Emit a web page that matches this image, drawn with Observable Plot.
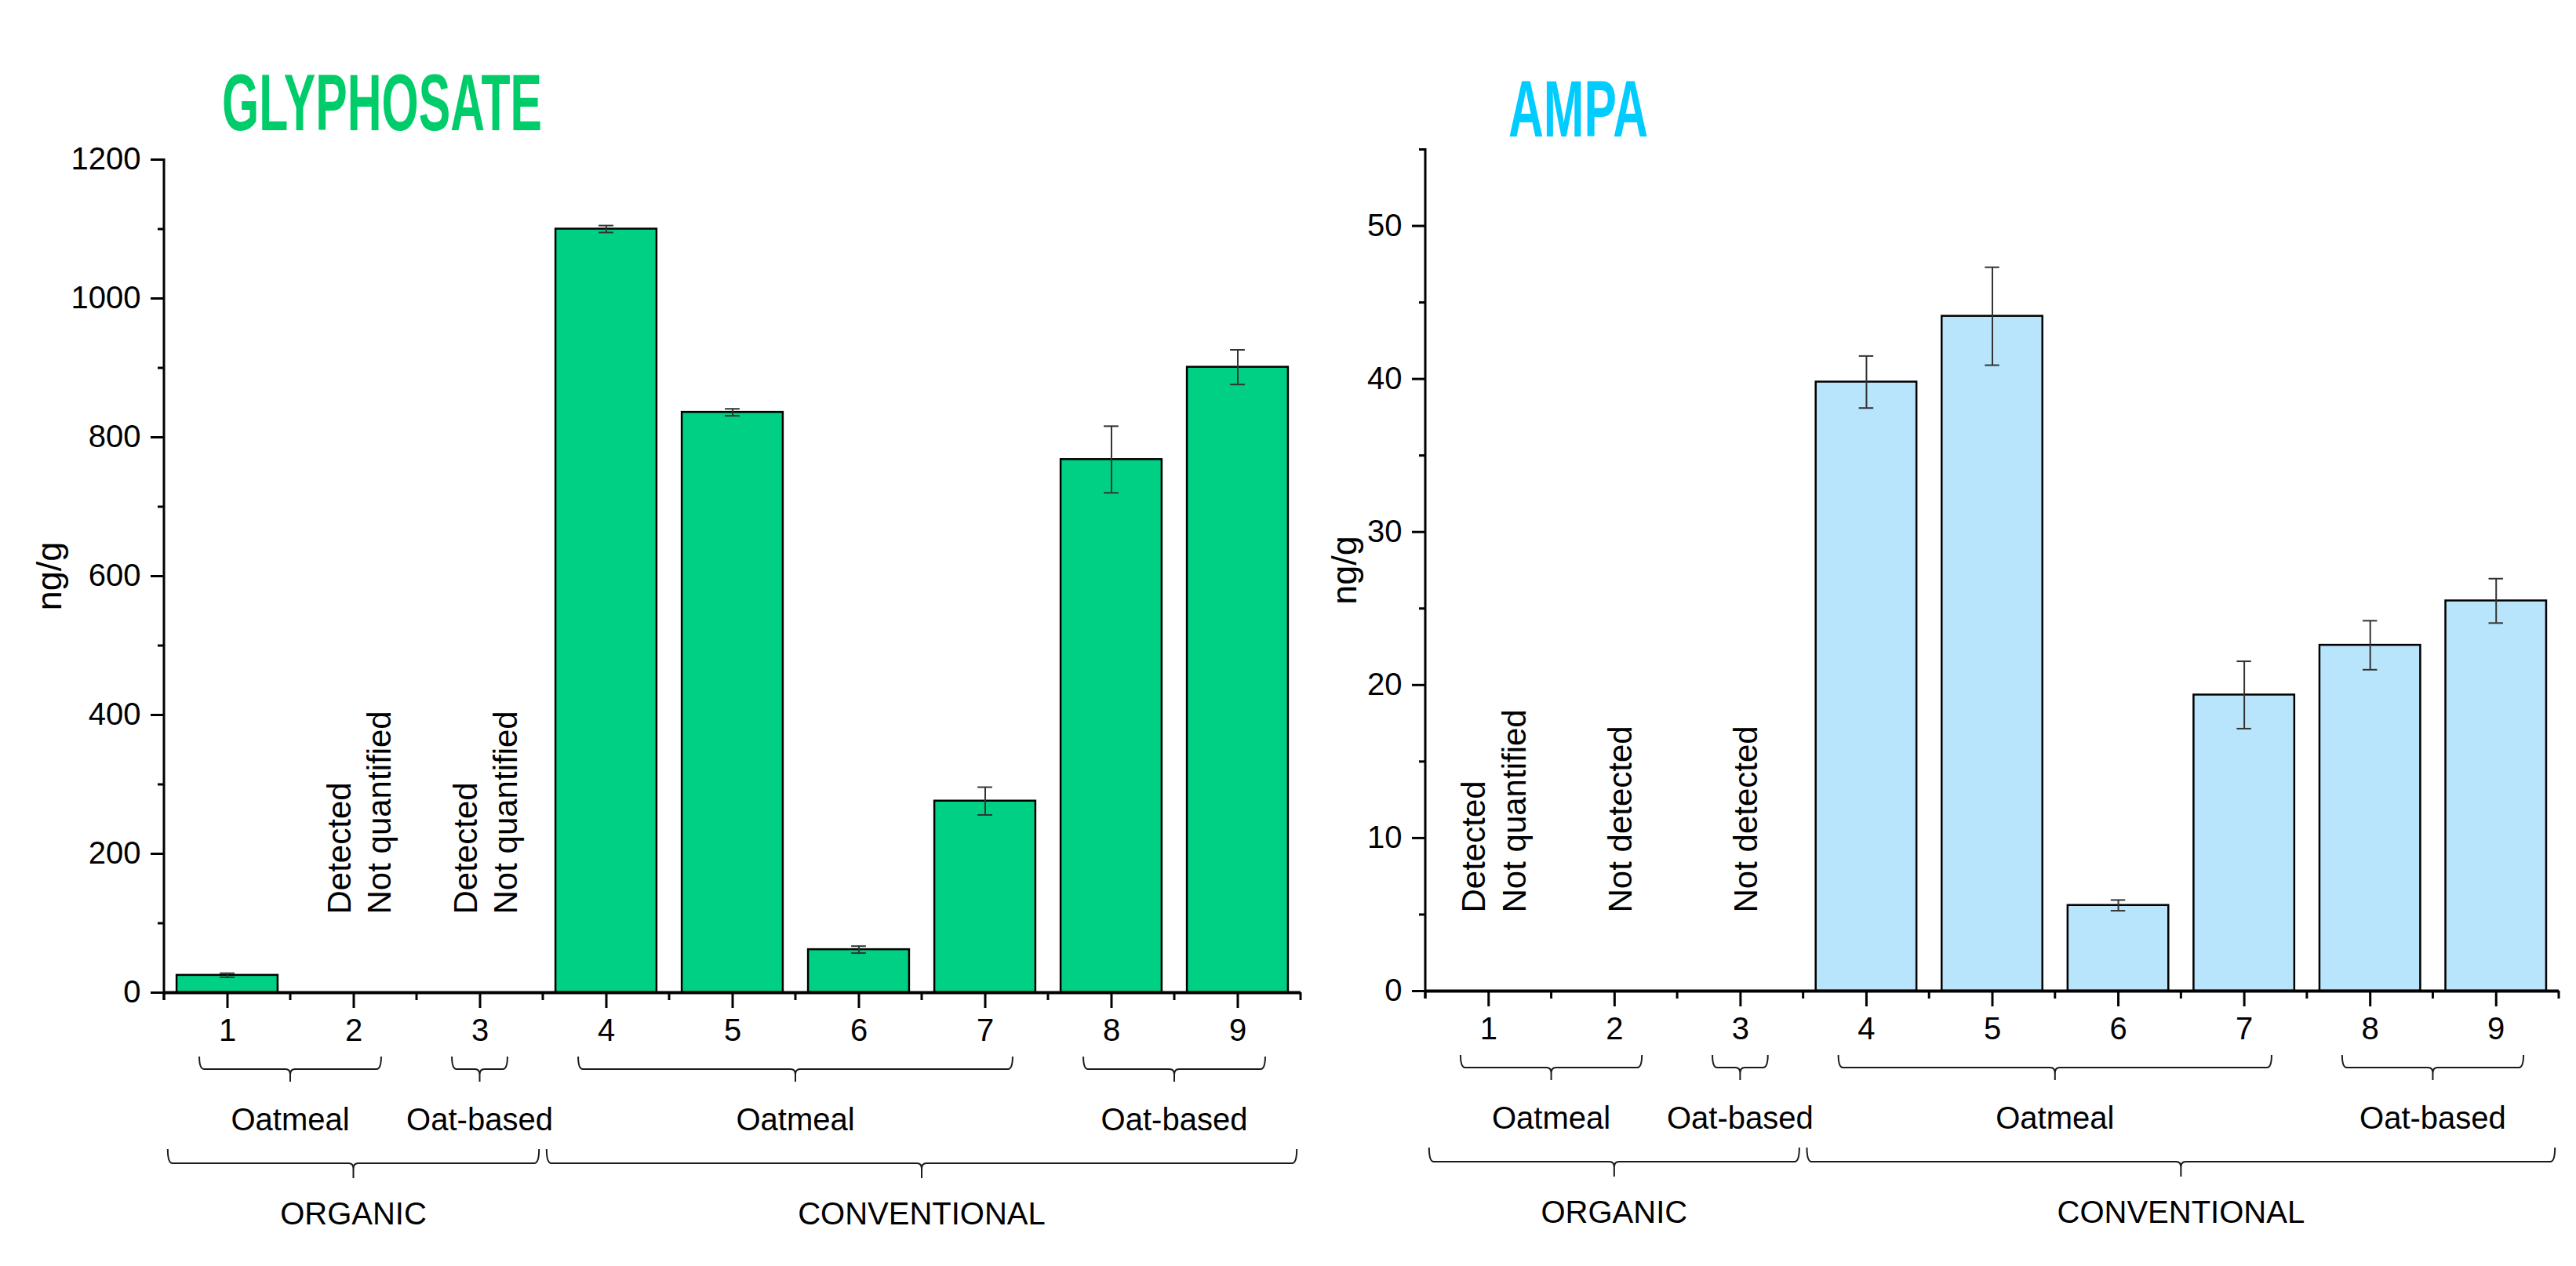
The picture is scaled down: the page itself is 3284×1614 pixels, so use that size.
<!DOCTYPE html>
<html><head><meta charset="utf-8">
<script src="https://cdn.jsdelivr.net/npm/d3@7"></script>
<script src="https://cdn.jsdelivr.net/npm/@observablehq/plot@0.6"></script>
<style>
html,body{margin:0;padding:0;background:#fff;}
#page{position:relative;width:3284px;height:1614px;overflow:hidden;background:#fff;}
.title{position:absolute;font-family:"Liberation Sans Narrow","Liberation Sans",Arial,sans-serif;font-weight:bold;font-size:102px;line-height:102px;white-space:nowrap;transform-origin:0 0;}
.chart{position:absolute;top:0;}
</style></head><body><div id="page"></div>
<script>
const categories = ["1","2","3","4","5","6","7","8","9"];
const glyphosateValues = [25, null, null, 1100, 836, 62, 276, 768, 901];
const glyphosateErrors = [3, null, null, 5, 5, 5, 20, 48, 25];
const ampaValues = [null, null, null, 39.8, 44.1, 5.6, 19.35, 22.6, 25.5];
const ampaErrors = [null, null, null, 1.7, 3.2, 0.35, 2.2, 1.6, 1.45];
const glyphosateNoteCategories = ["2","3"];
const glyphosateNoteTexts = ["Detected\nNot quantified", "Detected\nNot quantified"];
const ampaNoteCategories = ["1","2","3"];
const ampaNoteTexts = ["Detected\nNot quantified", "Not detected", "Not detected"];
const typeLabels = ["Oatmeal","Oat-based","Oatmeal","Oat-based"];
const typeFrom = ["1","3","4","8"];
const typeTo = ["2","3","7","9"];
const farmingLabels = ["ORGANIC","CONVENTIONAL"];
const farmingFrom = ["1","4"];
const farmingTo = ["3","9"];
const glyphosateTicks = [0,200,400,600,800,1000,1200];
const glyphosateMinorTicks = [100,300,500,700,900,1100];
const ampaTicks = [0,10,20,30,40,50];
const ampaMinorTicks = [5,15,25,35,45,55];
const yLabel = "ng/g";

const FONT = "'Liberation Sans', Arial, sans-serif";

function decorations() {
  return (index, scales, values, dims) => {
    const x = scales.x;
    const step = x(categories[1]) - x(categories[0]);
    const center = c => x(c) + step * 0.4;
    const base = dims.height - dims.marginBottom;
    const g = d3.create("svg:g");
    g.append("line")
      .attr("x1", dims.marginLeft).attr("x2", dims.marginLeft)
      .attr("y1", dims.marginTop - 1).attr("y2", base + 10)
      .attr("stroke", "#000").attr("stroke-width", 3);
    const bounds = categories.map(c => x(c) - step * 0.1)
      .concat([x(categories[categories.length - 1]) + step * 0.9]);
    g.append("g").selectAll("line").data(bounds).join("line")
      .attr("x1", d => d).attr("x2", d => d)
      .attr("y1", base).attr("y2", base + 10)
      .attr("stroke", "#000").attr("stroke-width", 3);
    const bracePath = (x0, x1, top, line, tip) => {
      const r = 6, xm = (x0 + x1) / 2, k = line + 7;
      return `M${x0},${top}Q${x0},${line} ${x0 + r},${line}L${xm - r},${line}Q${xm},${line} ${xm},${k}L${xm},${tip}` +
             `M${xm},${k}Q${xm},${line} ${xm + r},${line}L${x1 - r},${line}Q${x1},${line} ${x1},${top}`;
    };
    const drawLevel = (labels, from, to, inset, top, line, tip, textY) => {
      labels.forEach((lab, i) => {
        const a = center(from[i]), b = center(to[i]);
        const gc = (a + b) / 2;
        const half = (b - a) / 2 + step * 0.5 - step * inset;
        g.append("path").attr("d", bracePath(gc - half, gc + half, base + top, base + line, base + tip))
          .attr("fill", "none").attr("stroke", "#1a1a1a").attr("stroke-width", 2);
        g.append("text").attr("x", gc).attr("y", base + textY)
          .attr("text-anchor", "middle").attr("font-family", FONT)
          .attr("font-size", 40).attr("fill", "#000").text(lab);
      });
    };
    drawLevel(typeLabels, typeFrom, typeTo, 0.28, 82, 98, 114, 176);
    drawLevel(farmingLabels, farmingFrom, farmingTo, 0.03, 200, 218, 237, 296);
    return g.node();
  };
}

function makeChart(o) {
  const rows = categories.map((c, i) => ({cat: c, v: o.values[i], e: o.errors[i]})).filter(d => d.v != null);
  const notes = o.noteCats.map((c, i) => ({cat: c, text: o.noteTexts[i]}));
  return Plot.plot({
    width: o.width, height: 1614,
    marginLeft: o.marginLeft, marginRight: o.marginRight,
    marginTop: o.marginTop, marginBottom: o.marginBottom,
    style: {fontFamily: FONT, fontSize: "40px", color: "#000", background: "transparent"},
    x: {domain: categories, paddingInner: 0.2, paddingOuter: 0.1, round: false, label: null},
    y: {domain: o.domain, label: null},
    marks: [
      Plot.barY(rows, {x: "cat", y: "v", fill: o.fill, stroke: "#000", strokeWidth: 2.5}),
      Plot.ruleX(rows, {x: "cat", y1: d => d.v - d.e, y2: d => d.v + d.e, stroke: "#333", strokeWidth: 2}),
      Plot.tickY(rows, {x: "cat", y: d => d.v + d.e, stroke: "#333", strokeWidth: 2, insetLeft: 55, insetRight: 55}),
      Plot.tickY(rows, {x: "cat", y: d => d.v - d.e, stroke: "#333", strokeWidth: 2, insetLeft: 55, insetRight: 55}),
      Plot.text(notes, {x: "cat", y: () => 0, text: "text", rotate: -90, textAnchor: "start", lineAnchor: "middle",
        dy: -100, dx: 5, fontSize: 42, lineHeight: 1.23, fill: "#000"}),
      Plot.ruleY([0], {stroke: "#000", strokeWidth: 4}),
      Plot.axisY({ticks: o.ticks, tickSize: 17, tickPadding: 13, strokeWidth: 3, fontSize: 40, tickFormat: d => String(d), label: null}),
      Plot.axisY({ticks: o.minorTicks, tickSize: 8, strokeWidth: 3, tickFormat: () => "", label: null}),
      Plot.axisX({tickSize: 20, tickPadding: 13, strokeWidth: 3, fontSize: 40, label: null}),
      Plot.text([yLabel], {frameAnchor: "left", text: d => d, rotate: -90, dx: o.labelDx, lineAnchor: "middle", textAnchor: "middle", fontSize: 45, fill: "#000"}),
      decorations()
    ]
  });
}

const page = document.getElementById("page");

const left = makeChart({values: glyphosateValues, errors: glyphosateErrors, noteCats: glyphosateNoteCategories,
  noteTexts: glyphosateNoteTexts, domain: [0, 1200], ticks: glyphosateTicks, minorTicks: glyphosateMinorTicks,
  fill: "#00D084", width: 1680, marginLeft: 209, marginRight: 22, marginTop: 203, marginBottom: 349, labelDx: -146});
left.classList.add("chart"); left.style.left = "0px";
page.appendChild(left);

const right = makeChart({values: ampaValues, errors: ampaErrors, noteCats: ampaNoteCategories,
  noteTexts: ampaNoteTexts, domain: [0, 55], ticks: ampaTicks, minorTicks: ampaMinorTicks,
  fill: "#B8E5FB", width: 1604, marginLeft: 137, marginRight: 22, marginTop: 190, marginBottom: 351, labelDx: -103});
right.classList.add("chart"); right.style.left = "1680px";
page.appendChild(right);

function addTitle(text, color, leftPx, topPx, targetWidth) {
  const t = document.createElement("div");
  t.className = "title";
  t.textContent = text;
  t.style.color = color;
  t.style.left = leftPx + "px";
  t.style.top = topPx + "px";
  page.appendChild(t);
  const w = t.getBoundingClientRect().width;
  t.style.transform = `scaleX(${targetWidth / w})`;
}
addTitle("GLYPHOSATE", "#00CC6A", 283, 80, 408);
addTitle("AMPA", "#00CCFF", 1923, 88, 178);
</script>
</body></html>
